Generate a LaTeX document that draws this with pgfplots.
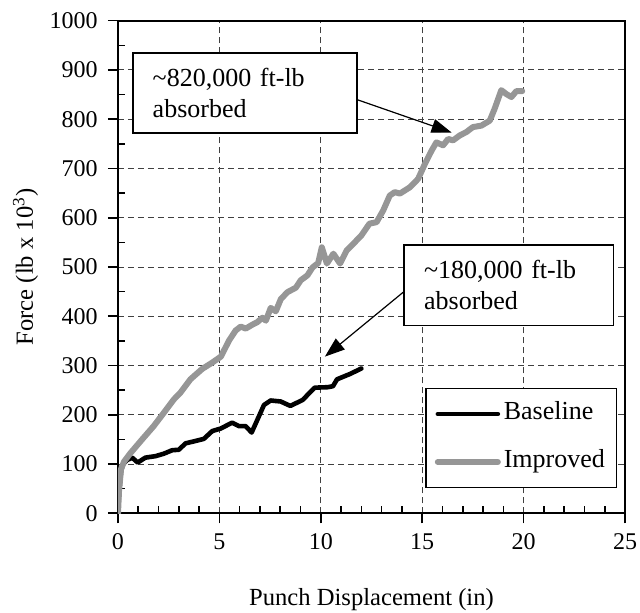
\documentclass[border=0pt,12pt]{standalone}
\usepackage{fontspec}
\setmainfont{Liberation Serif}
\usepackage{pgfplots}
\pgfplotsset{compat=1.18}
\usetikzlibrary{arrows.meta}
\definecolor{impgray}{RGB}{150,150,150}
\begin{document}
\begin{tikzpicture}
\begin{axis}[
  at={(0pt,0pt)}, anchor=south west,
  scale only axis, width=253.5pt, height=246.3pt,
  xmin=0, xmax=25, ymin=0, ymax=1000,
  xtick={0,5,...,25}, ytick={0,100,...,1000},
  minor x tick num=4, minor y tick num=1,
  xtick pos=bottom, ytick pos=left,
  tick align=inside,
  major tick length=5pt, minor tick length=3.5pt,
  major x tick style={yshift=-5pt},
  major y tick style={xshift=-5pt},
  tick style={black, line width=0.8pt},
  axis line style={line width=1pt},
  xmajorgrids, ymajorgrids,
  major grid style={dash pattern=on 3pt off 2pt, black!75, line width=0.45pt},
  /pgf/number format/assume math mode=true,
  /pgf/number format/1000 sep={},
  ticklabel style={font=\fontsize{12}{14}\selectfont},
  xticklabel style={yshift=-6pt},
  yticklabel style={xshift=-6pt},
  xlabel={Punch Displacement (in)},
  ylabel={Force (lb x 10\textsuperscript{3})},
  label style={font=\fontsize{12.3}{14}\selectfont},
  xlabel style={at={(axis description cs:0.5,-0.187)}, anchor=base},
  ylabel style={at={(axis description cs:-0.1677,0.5)}, anchor=base, rotate=0},
  legend image code/.code={\draw[#1] (0pt,0pt) -- (30pt,0pt);},
  legend cell align=left,
  legend style={at={(axis description cs:1,0)}, anchor=south east,
    xshift=-3.85pt, yshift=12.5pt, draw=black, line width=0.8pt, fill=white,
    font=\fontsize{13}{15}\selectfont,
    inner xsep=4.3pt, inner ysep=4.75pt, row sep=8pt,
    nodes={inner xsep=1.5pt, inner ysep=2pt, text height=9pt, text depth=3pt}},
]
\addplot[black, line width=2.3pt, line join=round, line cap=round] coordinates {
(0,0)(0.05,40)(0.15,85)(0.25,100)(0.45,108)(0.7,113)(0.97,103)(1.35,113)
(1.85,116)(2.26,121)(2.67,128)(3.0,129)(3.33,142)(3.74,146)(4.23,151)
(4.65,167)(5.06,172)(5.63,184)(5.96,177)(6.29,177)(6.59,164)(7.2,220)
(7.53,229)(8.02,227)(8.5,218)(9.1,230)(9.7,255)(10.35,256)(10.6,258)
(10.8,272)(11.45,283)(12.0,294)
};
\addlegendentry{Baseline}
\addplot[impgray, line width=3pt, line join=round, line cap=round] coordinates {
(0,0)(0.05,45)(0.15,90)(0.3,105)(0.61,122)(1.19,150)(1.76,177)(2.26,204)
(2.75,231)(3.08,245)(3.57,272)(4.15,293)(4.65,306)(5.07,318)(5.48,351)
(5.8,371)(6.05,379)(6.3,375)(6.63,383)(6.87,388)(7.12,397)(7.29,391)
(7.53,417)(7.78,410)(8.03,435)(8.36,449)(8.77,458)(9.01,473)(9.34,483)
(9.59,499)(9.87,508)(10.05,540)(10.3,507)(10.62,527)(10.95,507)(11.28,534)
(11.6,547)(12.0,564)(12.4,588)(12.75,591)(13.08,615)(13.4,645)(13.65,652)
(13.9,649)(14.4,662)(14.8,679)(15.13,709)(15.46,736)(15.7,753)(16.03,747)
(16.28,760)(16.52,757)(16.85,767)(17.18,774)(17.5,784)(17.92,787)
(18.33,797)(18.57,821)(18.9,859)(19.15,851)(19.4,845)(19.64,857)(19.93,857)
};
\addlegendentry{Improved}
\draw[-{Triangle[length=10pt,width=7pt]}, line width=0.6pt] (axis cs:11.77,840) -- (axis cs:16.45,773);
\draw[-{Triangle[length=10pt,width=7pt]}, line width=0.6pt] (axis cs:14.1,450) -- (axis cs:10.2,318);
\node[draw, fill=white, line width=0.8pt, minimum width=112pt, minimum height=40pt,
  text width=92pt, inner xsep=10pt, align=left, font=\fontsize{13}{15.5}\selectfont]
  at (axis cs:6.25,853.7) {\textasciitilde 820,000 ft-lb\\absorbed};
\node[draw, fill=white, line width=0.8pt, minimum width=104.7pt, minimum height=40.3pt,
  text width=84.7pt, inner xsep=10pt, align=left, font=\fontsize{13}{15.5}\selectfont]
  at (axis cs:19.27,463.4) {\textasciitilde 180,000 ft-lb\\absorbed};
\end{axis}
\pgfresetboundingbox
\useasboundingbox (-59pt,-49.85pt) rectangle (261pt,256.65pt);
\end{tikzpicture}
\end{document}
